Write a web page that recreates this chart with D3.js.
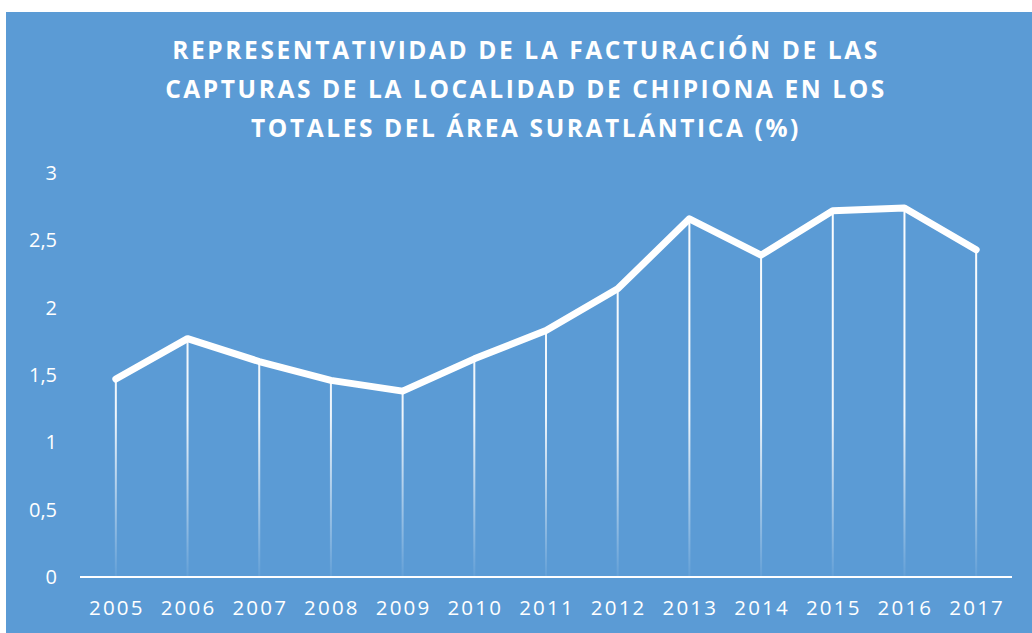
<!DOCTYPE html>
<html lang="es">
<head>
    <meta charset="UTF-8">
    <title>Representatividad Chipiona</title>
    <script src="https://d3js.org/d3.v7.min.js"></script>
    <style>
        body { margin: 0; background: #ffffff; }
        svg { display: block; }
        text { fill: #ffffff; font-family: "Open Sans", sans-serif; }
    </style>
</head>
<body>
<svg width="1032" height="633"></svg>
<script>
    // data
    const years = ["2005","2006","2007","2008","2009","2010","2011","2012","2013","2014","2015","2016","2017"];
    const values = [1.47, 1.77, 1.60, 1.46, 1.38, 1.62, 1.83, 2.14, 2.66, 2.39, 2.72, 2.74, 2.43];
    const yTicks = [0, 0.5, 1, 1.5, 2, 2.5, 3];
    const titleLines = [
        "REPRESENTATIVIDAD DE LA FACTURACIÓN DE LAS",
        "CAPTURAS DE LA LOCALIDAD DE CHIPIONA EN LOS",
        "TOTALES DEL ÁREA SURATLÁNTICA (%)"
    ];

    const svg = d3.select("svg");
    const plot = {left: 80, right: 1012, top: 173, bottom: 577};

    // blue panel
    svg.append("rect")
        .attr("x", 6).attr("y", 12)
        .attr("width", 1032 - 6).attr("height", 633 - 12)
        .attr("fill", "#5b9bd5");

    // title
    svg.append("g").selectAll("text")
        .data(titleLines)
        .enter().append("text")
        .attr("x", 526)
        .attr("y", (d, i) => 59 + i * 39)
        .attr("text-anchor", "middle")
        .attr("font-size", "24.5px")
        .attr("font-weight", "bold")
        .attr("letter-spacing", "2.6px")
        .text(d => d);

    const x = d3.scaleBand().domain(years).range([plot.left, plot.right]);
    const y = d3.scaleLinear().domain([0, 3]).range([plot.bottom, plot.top]);

    // fading gradient for the drop lines
    const grad = svg.append("defs").append("linearGradient")
        .attr("id", "fade")
        .attr("gradientUnits", "userSpaceOnUse")
        .attr("x1", 0).attr("x2", 0)
        .attr("y1", plot.top).attr("y2", plot.bottom);
    grad.append("stop").attr("offset", "0").attr("stop-color", "#fff").attr("stop-opacity", 1);
    grad.append("stop").attr("offset", "0.6").attr("stop-color", "#fff").attr("stop-opacity", 0.9);
    grad.append("stop").attr("offset", "1").attr("stop-color", "#fff").attr("stop-opacity", 0.05);

    const cx = d => x(d) + x.bandwidth() / 2;

    // drop lines
    svg.append("g").selectAll("rect")
        .data(years)
        .enter().append("rect")
        .attr("x", d => cx(d) - 1)
        .attr("width", 2)
        .attr("y", (d, i) => y(values[i]))
        .attr("height", (d, i) => plot.bottom - y(values[i]))
        .attr("fill", "url(#fade)");

    // x axis line
    svg.append("line")
        .attr("x1", plot.left).attr("x2", plot.right)
        .attr("y1", y(0)).attr("y2", y(0))
        .attr("stroke", "#ffffff").attr("stroke-width", 2);

    // main line
    const line = d3.line()
        .x((d, i) => cx(years[i]))
        .y(d => y(d));
    svg.append("path")
        .datum(values)
        .attr("d", line)
        .attr("fill", "none")
        .attr("stroke", "#ffffff")
        .attr("stroke-width", 7)
        .attr("stroke-linejoin", "round")
        .attr("stroke-linecap", "round");

    // y tick labels
    const fmt = d => String(d).replace(".", ",");
    svg.append("g").selectAll("text")
        .data(yTicks)
        .enter().append("text")
        .attr("x", 57)
        .attr("y", d => y(d) + 7)
        .attr("text-anchor", "end")
        .attr("font-size", "20px")
        .text(fmt);

    // x tick labels
    svg.append("g").selectAll("text")
        .data(years)
        .enter().append("text")
        .attr("x", d => cx(d) + 1)
        .attr("y", 615)
        .attr("text-anchor", "middle")
        .attr("font-size", "20.5px")
        .attr("letter-spacing", "2.2px")
        .text(d => d);
</script>
</body>
</html>
